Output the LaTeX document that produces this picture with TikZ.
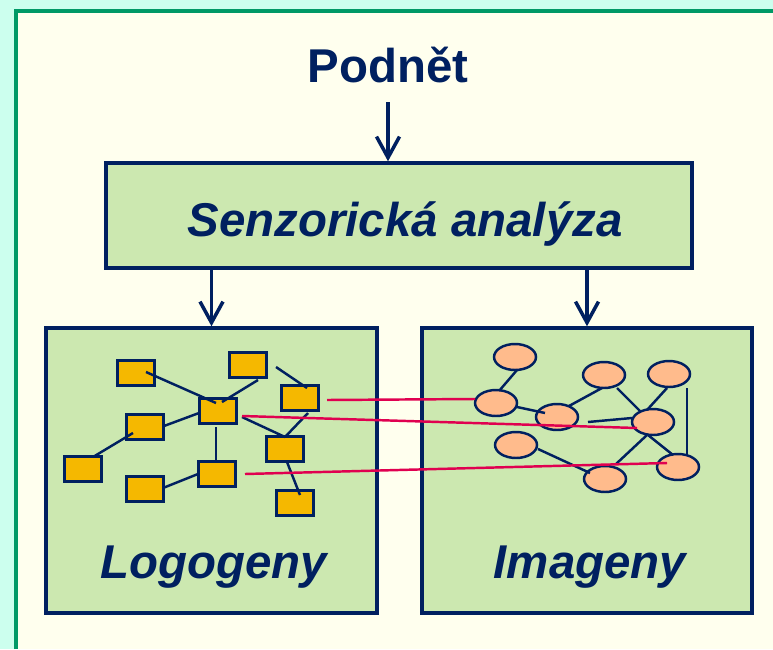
\documentclass[tikz,border=0pt]{standalone}
\usepackage{fontspec}
\setmainfont{Liberation Sans}
\usetikzlibrary{arrows.meta,shapes.geometric,calc}
\definecolor{navy}{RGB}{0,32,96}
\definecolor{zelena}{RGB}{204,232,176}
\definecolor{krem}{RGB}{255,255,238}
\definecolor{tyrkys}{RGB}{204,255,238}
\definecolor{ram}{RGB}{0,153,102}
\definecolor{zluta}{RGB}{245,184,0}
\definecolor{losos}{RGB}{255,187,140}
\definecolor{cervena}{RGB}{224,0,80}

\begin{document}
\begin{tikzpicture}[x=0.02cm,y=-0.02cm,
  box/.style={draw=navy, line width=2pt, fill=zelena, inner sep=0},
  slovo/.style={rectangle, draw=navy, line width=1.4pt, fill=zluta,
    minimum width=0.74cm, minimum height=0.5cm, inner sep=0},
  obraz/.style={ellipse, draw=navy, line width=1.4pt, fill=losos,
    minimum width=0.84cm, minimum height=0.52cm, inner sep=0},
  spoj/.style={navy, line width=1.4pt},
  vazba/.style={cervena, line width=1.4pt},
  sipka/.style={navy, line width=2pt, -{Straight Barb[length=0.42cm,width=0.46cm]}},
  txt/.style={text=navy, inner sep=0, anchor=base, font=\fontsize{27}{30}\selectfont\bfseries}]
  \useasboundingbox (0,0) rectangle (773,649);
  % pozadi
  \fill[tyrkys] (0,0) rectangle (773,649);
  \fill[krem] (16,11) rectangle (773,649);
  \draw[ram, line width=2.3pt] (16,649) -- (16,11) -- (773,11);
  % bloky
  \node[txt] (podnet) at (388,82) {Podnět};
  \node[box, minimum width=11.72cm, minimum height=2.1cm] (senzor) at (399,215.5) {};
  \node[txt, font=\fontsize{27}{30}\selectfont\bfseries\itshape] (senzortxt) at (405,236) {Senzorická analýza};
  \node[box, minimum width=6.62cm, minimum height=5.7cm] (logo) at (211.5,470.5) {};
  \node[box, minimum width=6.6cm, minimum height=5.7cm] (ima) at (587,470.5) {};
  \node[txt, font=\fontsize{27}{30}\selectfont\bfseries\itshape] (logotxt) at (214,578) {Logogeny};
  \node[txt, font=\fontsize{27}{30}\selectfont\bfseries\itshape] (imatxt) at (590,578) {Imageny};
  % sipky
  \draw[sipka] ([yshift=-11pt]podnet.south) -- (podnet.south |- senzor.north);
  \draw[sipka] (senzor.south -| logo.north) -- (logo.north);
  \draw[sipka] (senzor.south -| ima.north) -- (ima.north);
  % logogeny
  \node[slovo] (l1) at (136,373) {};
  \node[slovo] (l2) at (248,365) {};
  \node[slovo] (l3) at (300,398) {};
  \node[slovo] (l4) at (218,411) {};
  \node[slovo] (l5) at (145,427) {};
  \node[slovo] (l6) at (83,469) {};
  \node[slovo] (l7) at (285,449) {};
  \node[slovo] (l8) at (217,474) {};
  \node[slovo] (l9) at (145,489) {};
  \node[slovo] (l10) at (295,503) {};
  \draw[spoj] ($(l1)+(10,-1)$) -- ($(l4)+(-2,-8)$);
  \draw[spoj] ($(l2)+(10,15)$) -- ($(l4)+(4,-9)$);
  \draw[spoj] ($(l2)+(28,2)$) -- ($(l3)+(7,-10)$);
  \draw[spoj] ($(l4)+(-19,2)$) -- ($(l5)+(19,-1)$);
  \draw[spoj] ($(l5)+(-12,6)$) -- ($(l6)+(10,-12)$);
  \draw[spoj] ($(l4)+(-2,16)$) -- ($(l8)+(-1,-12)$);
  \draw[spoj] ($(l4)+(24,6)$) -- ($(l7)+(0,-12)$);
  \draw[spoj] ($(l3)+(8,15)$) -- ($(l7)+(0,-12)$);
  \draw[spoj] ($(l8)+(-19,0)$) -- ($(l9)+(18,-1)$);
  \draw[spoj] ($(l7)+(2,13)$) -- ($(l10)+(5,-8)$);
  % imageny
  \node[obraz] (e1) at (515,357) {};
  \node[obraz] (e2) at (496,403) {};
  \node[obraz] (e3) at (557,417) {};
  \node[obraz] (e4) at (604,375) {};
  \node[obraz] (e5) at (669,374) {};
  \node[obraz] (e6) at (653,422) {};
  \node[obraz] (e7) at (516,445) {};
  \node[obraz] (e8) at (605,479) {};
  \node[obraz] (e9) at (678,467) {};
  \draw[spoj] ($(e1)+(2,13)$) -- ($(e2)+(3,-12)$);
  \draw[spoj] ($(e2)+(21,4)$) -- ($(e3)+(-12,-4)$);
  \draw[spoj] ($(e3)+(12,-11)$) -- ($(e4)+(-2,13)$);
  \draw[spoj] ($(e3)+(31,5)$) -- ($(e6)+(-21,-4)$);
  \draw[spoj] ($(e4)+(13,13)$) -- ($(e6)+(-13,-11)$);
  \draw[spoj] ($(e5)+(-2,14)$) -- ($(e6)+(-6,-12)$);
  \draw[spoj] ($(e5)+(18,14)$) -- ($(e9)+(9,-12)$);
  \draw[spoj] ($(e6)+(-5,13)$) -- ($(e9)+(-5,-12)$);
  \draw[spoj] ($(e6)+(-6,13)$) -- ($(e8)+(11,-15)$);
  \draw[spoj] ($(e7)+(22,4)$) -- ($(e8)+(-15,-6)$);
  % vazby
  \draw[vazba] ($(l3)+(27,2)$) -- ($(e2)+(-21,-4)$);
  \draw[vazba] ($(l4)+(24,5)$) -- ($(e6)+(-16,6)$);
  \draw[vazba] ($(l8)+(28,0)$) -- ($(e9)+(-11,-4)$);
\end{tikzpicture}
\end{document}
